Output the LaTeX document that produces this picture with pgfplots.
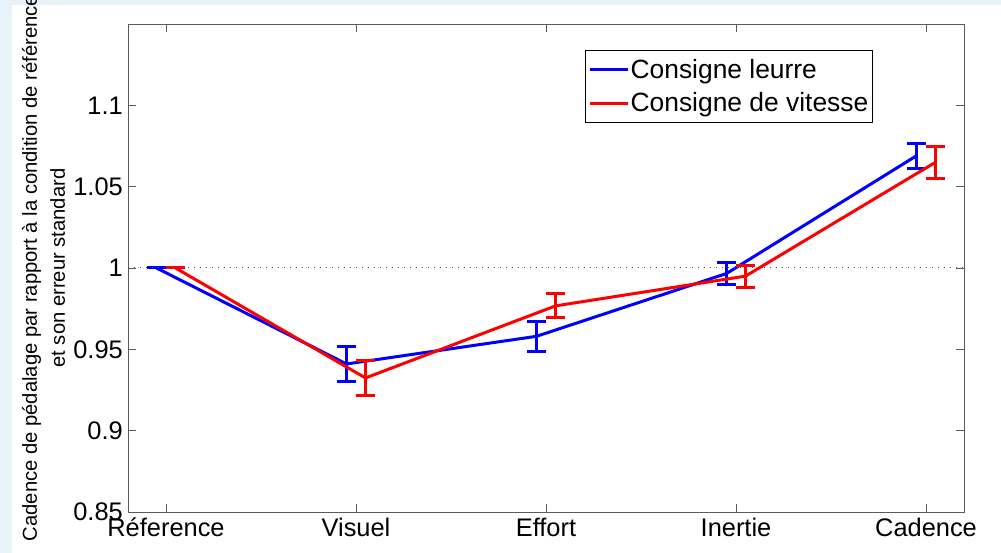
\documentclass[border=0pt]{standalone}
\usepackage{pgfplots}
\pgfplotsset{compat=1.18}
\usepackage{fontspec}
\setmainfont{Liberation Sans}
\definecolor{bgblue}{RGB}{232,242,249}
\definecolor{axgray}{RGB}{90,90,90}
\begin{document}
\begin{tikzpicture}[x=1bp,y=1bp]
\useasboundingbox (0,0) rectangle (1001,553);
\clip (0,0) rectangle (1001,553);
\fill[bgblue] (0,0) rectangle (1001,553);
\fill[white] (12,0) rectangle (1001,548);
\begin{axis}[
  at={(128bp,41bp)}, anchor=south west,
  scale only axis, width=836bp, height=488bp,
  xmin=0.8, xmax=5.2, ymin=0.85, ymax=1.15,
  xtick={1,2,3,4,5},
  xticklabels={Réference,Visuel,Effort,Inertie,Cadence},
  ytick={0.85,0.9,0.95,1,1.05,1.1},
  yticklabels={0.85,0.9,0.95,1,1.05,1.1},
  tick align=inside,
  major tick length=8bp,
  tick style={axgray, line width=0.8bp},
  axis line style={axgray, line width=0.8bp},
  ticklabel style={font=\fontsize{25.5}{30}\selectfont, text=black},
  xticklabel style={inner sep=0pt, yshift=-6bp},
  yticklabel style={inner sep=0pt, xshift=-5bp},
  ylabel={Cadence de pédalage par rapport à la condition de référence\\et son erreur standard},
  ylabel style={align=center, font=\fontsize{20.3}{28}\selectfont,
    at={(axis description cs:-0.101,0.5)}, anchor=center},
  legend style={at={(0.547,0.947)}, anchor=north west, draw=black,
    line width=0.6bp, font=\fontsize{26.5}{30}\selectfont,
    inner xsep=3bp, inner ysep=8bp, row sep=11bp,
    nodes={inner sep=1bp}},
  legend cell align=left,
  legend image code/.code={\draw[#1, line width=3bp] (0bp,0bp) -- (38bp,0bp);},
]
\addplot[blue, line width=3bp,
  error bars/.cd, y dir=both, y explicit,
  error bar style={line width=3bp, blue},
  error mark options={rotate=90, line width=3bp, mark size=9.5bp, blue}]
  coordinates {
  (0.95,1) +- (0,0)
  (1.95,0.941) +- (0,0.011)
  (2.95,0.958) +- (0,0.0092)
  (3.95,0.9966) +- (0,0.007)
  (4.95,1.069) +- (0,0.0077)
  };
\addlegendentry{Consigne leurre}
\addplot[red, line width=3bp,
  error bars/.cd, y dir=both, y explicit,
  error bar style={line width=3bp, red},
  error mark options={rotate=90, line width=3bp, mark size=9.5bp, red}]
  coordinates {
  (1.05,1) +- (0,0)
  (2.05,0.9324) +- (0,0.0105)
  (3.05,0.9767) +- (0,0.0074)
  (4.05,0.995) +- (0,0.0067)
  (5.05,1.065) +- (0,0.0098)
  };
\addlegendentry{Consigne de vitesse}
\addplot[black!70, line width=1bp, dash pattern=on 1bp off 5bp, forget plot]
  coordinates {(0.8,1) (5.2,1)};
\end{axis}
\end{tikzpicture}
\end{document}
